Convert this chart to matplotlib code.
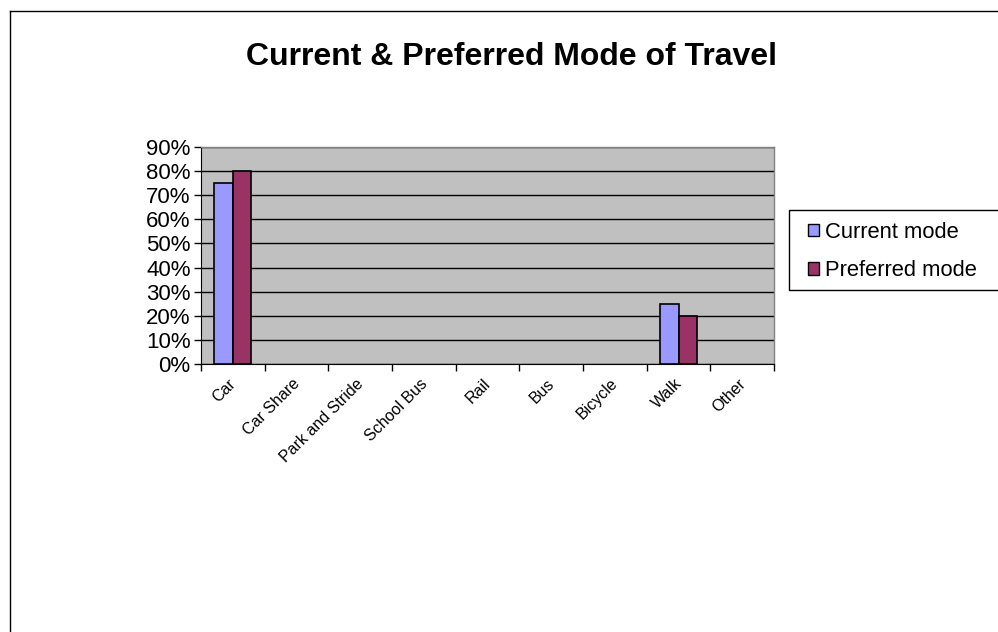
import matplotlib
matplotlib.use("Agg")
import matplotlib.pyplot as plt
import matplotlib.transforms as mtransforms
import numpy as np
from matplotlib.lines import Line2D
from matplotlib.patches import Rectangle

plt.rcParams['font.family'] = ['Liberation Sans', 'DejaVu Sans']

categories = ["Car", "Car Share", "Park and Stride", "School Bus", "Rail", "Bus", "Bicycle", "Walk", "Other"]
current_mode = [0.75, 0, 0, 0, 0, 0, 0, 0.25, 0]
preferred_mode = [0.80, 0, 0, 0, 0, 0, 0, 0.20, 0]
series_names = ["Current mode", "Preferred mode"]
yticks = [0, 0.1, 0.2, 0.3, 0.4, 0.5, 0.6, 0.7, 0.8, 0.9]

W, H = 998, 632
fig = plt.figure(figsize=(W / 100, H / 100), dpi=100)
fig.patch.set_facecolor("white")

# chart outer border (top and left visible)
fig.add_artist(Line2D([10 / W, 10 / W], [0, 1 - 11 / H], transform=fig.transFigure, color="black", lw=1))
fig.add_artist(Line2D([10 / W, 1], [1 - 11 / H, 1 - 11 / H], transform=fig.transFigure, color="black", lw=1))

left, right, top, bottom = 201, 774, 147, 364
ax = fig.add_axes([left / W, 1 - bottom / H, (right - left) / W, (bottom - top) / H])
ax.set_facecolor("#C0C0C0")

x = np.arange(len(categories))
bw = 0.29
lw_cur = [1.2 if v > 0 else 0 for v in current_mode]
lw_pre = [1.2 if v > 0 else 0 for v in preferred_mode]
ax.bar(x - bw / 2, current_mode, bw, color="#9999FF", edgecolor="black", linewidth=lw_cur, label=series_names[0], zorder=3)
ax.bar(x + bw / 2, preferred_mode, bw, color="#993366", edgecolor="black", linewidth=lw_pre, label=series_names[1], zorder=3)

ax.set_xlim(-0.5, len(categories) - 0.5)
ax.set_ylim(0, 0.9)
ax.set_yticks(yticks)
ax.set_yticklabels([f"{int(round(v * 100))}%" for v in yticks], fontsize=16)
ax.yaxis.grid(True, color="black", linewidth=1, zorder=1)
ax.set_axisbelow(True)

ax.set_xticks(np.arange(len(categories) + 1) - 0.5)
ax.set_xticklabels([])
ax.set_xticks(x, minor=True)
ax.set_xticklabels(categories, minor=True, rotation=45, ha="right", va="top", rotation_mode="anchor", fontsize=11.5)
ax.tick_params(axis="x", which="minor", length=0, pad=6)
ax.tick_params(axis="x", which="major", length=5, direction="out", width=1)
ax.tick_params(axis="y", length=5, direction="out", width=1, pad=2.5)
offset = mtransforms.ScaledTranslation(-4.5 / 100, -3.5 / 100, fig.dpi_scale_trans)
for lab in ax.get_xticklabels(minor=True):
    lab.set_transform(lab.get_transform() + offset)

for s in ["top", "right"]:
    ax.spines[s].set_color("#808080")
    ax.spines[s].set_linewidth(1)
ax.spines["left"].set_color("black")
ax.spines["bottom"].set_color("black")

fig.text(511 / W, 1 - 65 / H, "Current & Preferred Mode of Travel", ha="center", va="baseline",
         fontsize=23, fontweight="bold")

# legend frame extending past the right edge
fig.add_artist(Rectangle((789 / W, 1 - 290 / H), 1.0, 80 / H, transform=fig.transFigure,
                         facecolor="white", edgecolor="black", linewidth=1, zorder=1))
leg = fig.legend(loc="upper left", bbox_to_anchor=(808 / W, 1 - 222 / H), fontsize=15.8,
                 frameon=False, handlelength=0.5, handleheight=0.5,
                 handletextpad=0.27, borderpad=0, labelspacing=0.79, borderaxespad=0)
leg.set_zorder(2)
for h in leg.legend_handles:
    h.set_linewidth(1)

fig.savefig("out.png", dpi=100)
